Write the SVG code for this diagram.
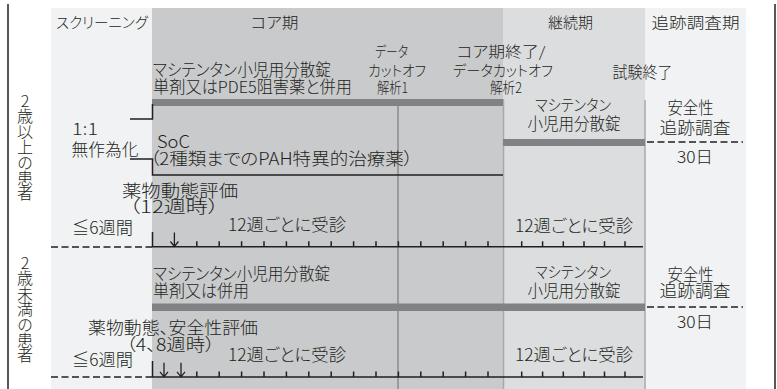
<svg xmlns="http://www.w3.org/2000/svg" width="777" height="389" viewBox="0 0 777 389">
<style>
text{font-family:"Noto Sans CJK JP","Noto Sans",sans-serif;fill:#231f20;font-size:16.5px;font-weight:300;font-feature-settings:"palt"}
.h{font-size:15px}
.s{font-size:14.5px}
.m{font-size:15.5px}
.b{font-size:17px}
.v{writing-mode:vertical-rl;text-orientation:upright;font-size:16px;letter-spacing:-0.6px;font-feature-settings:normal}
.dash{stroke:#231f20;stroke-width:1.5;stroke-dasharray:7 3.5;fill:none}
.ax{stroke:#231f20;stroke-width:1.5;fill:none}
.bar{fill:#808285}
</style>
<defs>
<path id="arr" d="M0,-14V0M-4,-5L0,0L4,-5" fill="none" stroke="#231f20" stroke-width="1.3"/>
</defs>
<rect width="777" height="389" fill="#fff"/>
<g id="columns">
<rect x="51" y="8" width="101" height="381" fill="#f1f2f4"/>
<rect x="152" y="8" width="351" height="381" fill="#c9cacc"/>
<rect x="503" y="8" width="142" height="381" fill="#dcdddf"/>
<rect x="645" y="8" width="101" height="381" fill="#f1f2f4"/>
<line x1="8" y1="4" x2="8" y2="389" stroke="#231f20" stroke-width="1.5"/>
<line x1="775" y1="4" x2="775" y2="389" stroke="#231f20" stroke-width="1.5"/>
<line x1="503.5" y1="99" x2="503.5" y2="389" stroke="#a7a9ac" stroke-width="1.5"/>
<line x1="645" y1="100" x2="645" y2="389" stroke="#a7a9ac" stroke-width="1.5"/>
<line x1="398" y1="106" x2="398" y2="389" stroke="#8a8b8e" stroke-width="1.5"/>
</g>
<g id="headers">
<text class="h" x="56" y="27.5" textLength="92" lengthAdjust="spacingAndGlyphs">スクリーニング</text>
<text class="h" x="250.5" y="27.5" textLength="48" lengthAdjust="spacingAndGlyphs">コア期</text>
<text class="h" x="548" y="27.5" textLength="45" lengthAdjust="spacingAndGlyphs">継続期</text>
<text class="h" x="651.5" y="27.5" textLength="88" lengthAdjust="spacingAndGlyphs">追跡調査期</text>
</g>
<g id="labels-left">
<text class="v" x="25" y="93">2歳以上の患者</text>
<text class="v" x="25" y="255">2歳未満の患者</text>
</g>
<g id="milestones">
<text class="s" x="375" y="57" textLength="33" lengthAdjust="spacingAndGlyphs">データ</text>
<text class="s" x="368" y="76" textLength="58" lengthAdjust="spacingAndGlyphs">カットオフ</text>
<text class="s" x="377" y="93" textLength="31" lengthAdjust="spacingAndGlyphs">解析1</text>
<text class="s" x="456.5" y="57" textLength="89" lengthAdjust="spacingAndGlyphs">コア期終了/</text>
<text class="s" x="453" y="76" textLength="100" lengthAdjust="spacingAndGlyphs">データカットオフ</text>
<text class="s" x="490" y="93" textLength="32" lengthAdjust="spacingAndGlyphs">解析2</text>
<text class="m" x="612.5" y="78" textLength="60" lengthAdjust="spacingAndGlyphs">試験終了</text>
</g>
<g id="row1">
<rect class="bar" x="152" y="99" width="351" height="7"/>
<rect class="bar" x="503" y="139" width="142" height="7"/>
<path class="ax" d="M130,119H152.5V104M130,159H152.5V175H503"/>
<text x="153" y="76" textLength="178" lengthAdjust="spacingAndGlyphs">マシテンタン小児用分散錠</text>
<text x="153" y="93" textLength="199" lengthAdjust="spacingAndGlyphs">単剤又はPDE5阻害薬と併用</text>
<text class="m" x="535" y="111" textLength="76" lengthAdjust="spacingAndGlyphs">マシテンタン</text>
<text x="527.5" y="130" textLength="93" lengthAdjust="spacingAndGlyphs">小児用分散錠</text>
<text x="667.5" y="114" textLength="46" lengthAdjust="spacingAndGlyphs">安全性</text>
<text x="659.5" y="134" textLength="71" lengthAdjust="spacingAndGlyphs">追跡調査</text>
<line class="dash" x1="647" y1="142" x2="743" y2="142"/>
<text x="677" y="163" textLength="36" lengthAdjust="spacingAndGlyphs">30日</text>
<text x="72" y="135" textLength="26" lengthAdjust="spacingAndGlyphs">1:1</text>
<text x="71.5" y="156" textLength="67" lengthAdjust="spacingAndGlyphs">無作為化</text>
<text class="b" x="157" y="148" textLength="33" lengthAdjust="spacingAndGlyphs">SoC</text>
<text class="b" x="150" y="165" textLength="263" lengthAdjust="spacingAndGlyphs">（2種類までのPAH特異的治療薬）</text>
<text class="b" x="122" y="197" textLength="116" lengthAdjust="spacingAndGlyphs">薬物動態評価</text>
<text class="b" x="129" y="213" textLength="90" lengthAdjust="spacingAndGlyphs">（12週時）</text>
<text class="b" x="72" y="234" textLength="61" lengthAdjust="spacingAndGlyphs">≦6週間</text>
<text class="b" x="228" y="231" textLength="118" lengthAdjust="spacingAndGlyphs">12週ごとに受診</text>
<text class="b" x="515" y="232" textLength="118" lengthAdjust="spacingAndGlyphs">12週ごとに受診</text>
<line class="dash" x1="51" y1="247" x2="152" y2="247"/>
<path class="ax" d="M152.5,232V246.7H643M196.8,246.7v-5.5M219.2,246.7v-5.5M241.6,246.7v-5.5M264,246.7v-5.5M286.4,246.7v-5.5M308.8,246.7v-5.5M331.2,246.7v-5.5M353.6,246.7v-5.5M376,246.7v-5.5M398.4,246.7v-5.5M420.8,246.7v-5.5M443.2,246.7v-5.5M465.6,246.7v-5.5M488,246.7v-5.5M521.7,246.7v-5.5M542.6,246.7v-5.5M563.3,246.7v-5.5M584,246.7v-5.5M604.5,246.7v-5.5M625,246.7v-5.5"/>
<use href="#arr" x="174.4" y="246.5"/>
</g>
<g id="row2">
<rect class="bar" x="152" y="303.5" width="493" height="7.5"/>
<text x="153" y="280" textLength="177" lengthAdjust="spacingAndGlyphs">マシテンタン小児用分散錠</text>
<text x="153" y="297" textLength="96" lengthAdjust="spacingAndGlyphs">単剤又は併用</text>
<text class="m" x="535" y="278" textLength="76" lengthAdjust="spacingAndGlyphs">マシテンタン</text>
<text x="527.5" y="297" textLength="93" lengthAdjust="spacingAndGlyphs">小児用分散錠</text>
<text x="667.5" y="281" textLength="46" lengthAdjust="spacingAndGlyphs">安全性</text>
<text x="659.5" y="297" textLength="71" lengthAdjust="spacingAndGlyphs">追跡調査</text>
<line class="dash" x1="647" y1="307" x2="743" y2="307"/>
<text x="677" y="328" textLength="36" lengthAdjust="spacingAndGlyphs">30日</text>
<text class="b" x="88" y="334" textLength="170" lengthAdjust="spacingAndGlyphs">薬物動態、安全性評価</text>
<text class="b" x="126" y="350.5" textLength="89" lengthAdjust="spacingAndGlyphs">（4、8週時）</text>
<text class="b" x="72" y="366" textLength="61" lengthAdjust="spacingAndGlyphs">≦6週間</text>
<text class="b" x="228" y="361" textLength="118" lengthAdjust="spacingAndGlyphs">12週ごとに受診</text>
<text class="b" x="515" y="361" textLength="118" lengthAdjust="spacingAndGlyphs">12週ごとに受診</text>
<line class="dash" x1="51" y1="377" x2="152" y2="377"/>
<path class="ax" d="M152.5,361V377H643M196.8,377v-5.5M219.2,377v-5.5M241.6,377v-5.5M264,377v-5.5M286.4,377v-5.5M308.8,377v-5.5M331.2,377v-5.5M353.6,377v-5.5M376,377v-5.5M398.4,377v-5.5M420.8,377v-5.5M443.2,377v-5.5M465.6,377v-5.5M488,377v-5.5M521.7,377v-5.5M542.6,377v-5.5M563.3,377v-5.5M584,377v-5.5M604.5,377v-5.5M625,377v-5.5"/>
<use href="#arr" x="164" y="376.8"/>
<use href="#arr" x="181" y="376.8"/>
</g>
</svg>
